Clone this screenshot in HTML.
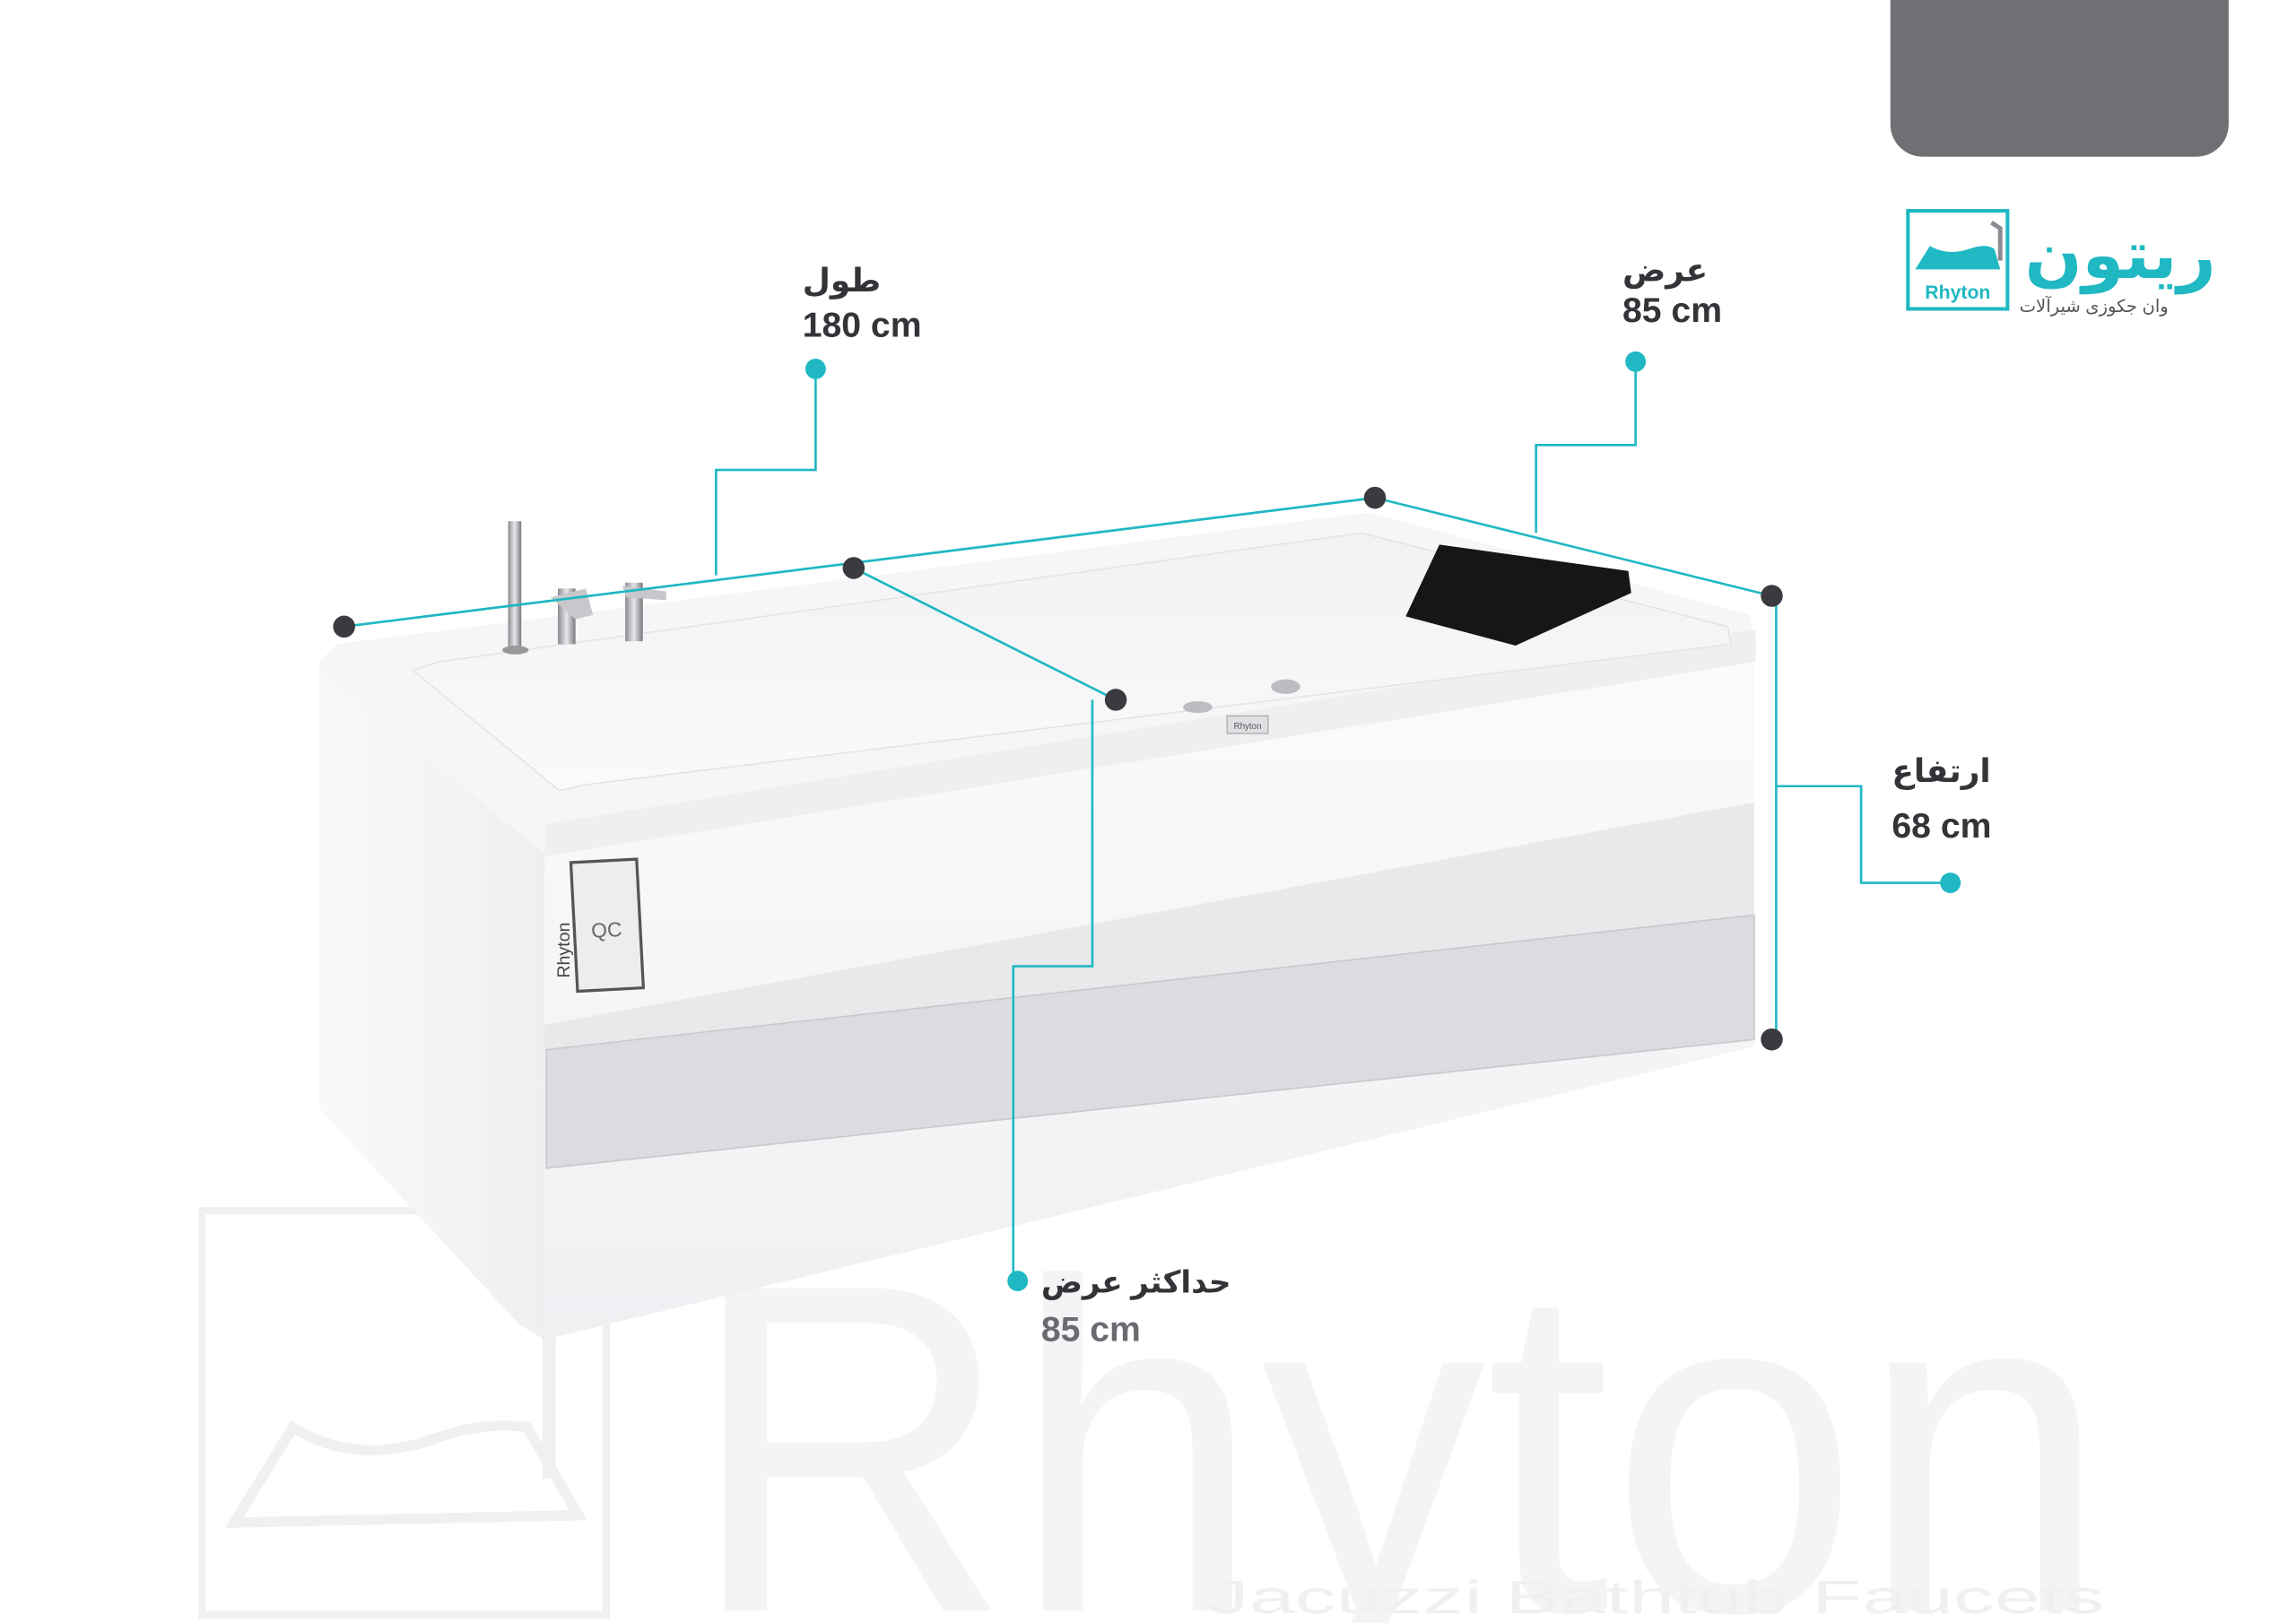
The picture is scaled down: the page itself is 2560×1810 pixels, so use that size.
<!DOCTYPE html>
<html><head><meta charset="utf-8"><style>
html,body{margin:0;padding:0;background:#fff;width:2560px;height:1810px;overflow:hidden;}
svg{display:block;}
</style></head><body>
<svg width="2560" height="1810" viewBox="0 0 1568 1108.6" preserveAspectRatio="none" xmlns="http://www.w3.org/2000/svg">
<defs>
<linearGradient id="lf" x1="0" y1="0" x2="1" y2="0"><stop offset="0" stop-color="#f9f9fa"/><stop offset="1" stop-color="#efeff2"/></linearGradient>
<linearGradient id="ff" x1="0" y1="0" x2="0" y2="1"><stop offset="0" stop-color="#fbfbfc"/><stop offset="1" stop-color="#f0f0f3"/></linearGradient>
<linearGradient id="bs" x1="0" y1="0" x2="0" y2="1"><stop offset="0" stop-color="#f2f2f4"/><stop offset="1" stop-color="#fafafb"/></linearGradient>
<linearGradient id="mt" x1="0" y1="0" x2="1" y2="0"><stop offset="0" stop-color="#8a8a90"/><stop offset="0.5" stop-color="#e8e8ec"/><stop offset="1" stop-color="#77777d"/></linearGradient>
</defs>
<rect width="1568" height="1108.6" fill="#fff"/>
<!-- watermark -->
<g fill="none" stroke="#f0f0f3" stroke-width="5">
<rect x="138" y="827" width="276" height="276"/>
<path d="M160 1040 L200 975 Q240 1000 290 985 Q330 970 360 975 L395 1035 Z" stroke-width="7"/>
<path d="M375 905 L375 1010" stroke-width="9"/>
</g>
<text x="470" y="1100" font-family="Liberation Sans, sans-serif" font-size="320" fill="#f4f4f7" textLength="970" lengthAdjust="spacingAndGlyphs">Rhyton</text>
<text x="825" y="1102" font-family="Liberation Sans, sans-serif" font-size="32" fill="#f0f0f3" textLength="612" lengthAdjust="spacingAndGlyphs">Jacuzzi  Bathtub  Faucets</text>

<!-- gray box -->
<rect x="1291" y="-30" width="231" height="137" rx="22" fill="#707074"/>

<!-- logo -->
<rect x="1303" y="144" width="68" height="67" fill="none" stroke="#1fb8c3" stroke-width="2.5"/>
<path d="M1308 184 L1318 168 Q1330 175 1345 170 Q1356 166 1362 170 L1366 184 Z" fill="#1fb8c3"/>
<path d="M1360 152 L1366 156 L1366 178" stroke="#8a8a90" stroke-width="3" fill="none"/>
<text x="1337" y="204" text-anchor="middle" font-family="Liberation Sans, sans-serif" font-weight="bold" font-size="13" fill="#1fb8c3">Rhyton</text>
<text x="1448" y="190" text-anchor="middle" font-family="'Liberation Sans','DejaVu Sans',sans-serif" font-weight="bold" font-size="46" fill="#1fb8c3">ريتون</text>
<text x="1430" y="213" text-anchor="middle" font-family="'Liberation Sans','DejaVu Sans',sans-serif" font-size="12" fill="#55555a">وان جکوزی شیرآلات</text>

<!-- tub -->
<polygon points="218,455 372,582 372,915 355,905 218,757" fill="url(#lf)"/>
<polygon points="372,582 1198,445 1198,715 372,915" fill="url(#ff)"/>
<polygon points="372,700 1198,548 1198,625 372,717" fill="#e9e9ec"/>
<polygon points="373,717 1198,625 1198,710 373,798" fill="#dcdce0" stroke="#c9c9cd" stroke-width="1"/>
<polygon points="218,452 230,440 935,350 1195,420 1200,445 372,583 218,458" fill="#f6f6f8"/>
<polygon points="372,563 1199,430 1199,452 372,585" fill="#efeff2"/>
<polygon points="282,458 300,452 930,364 1180,428 1182,440 400,536 382,540" fill="url(#bs)" stroke="#e4e4e8" stroke-width="1"/>
<!-- pillow -->
<polygon points="983,372 1112,390 1114,405 1035,441 960,421" fill="#161618"/>
<!-- jets & badge -->
<ellipse cx="818" cy="483" rx="10" ry="4" fill="#bcbcc2"/>
<ellipse cx="878" cy="469" rx="10" ry="5" fill="#bcbcc2"/>
<rect x="838" y="489" width="28" height="12" fill="#e0e0e4" stroke="#aaa" stroke-width="0.8"/>
<text x="852" y="498" text-anchor="middle" font-family="Liberation Sans, sans-serif" font-size="6" fill="#555">Rhyton</text>
<!-- faucets -->
<rect x="347" y="356" width="9" height="86" fill="url(#mt)"/>
<ellipse cx="352" cy="444" rx="9" ry="3" fill="#999"/>
<rect x="381" y="402" width="12" height="38" fill="url(#mt)"/>
<path d="M376 408 L400 402 L405 420 L393 423 Z" fill="#c8c8cc"/>
<rect x="427" y="398" width="12" height="40" fill="url(#mt)"/>
<path d="M425 400 L455 404 L455 410 L428 408 Z" fill="#c8c8cc"/>
<!-- sticker -->
<g transform="rotate(-3 414 630)">
<rect x="392" y="588" width="45" height="88" fill="#ededf0" stroke="#555" stroke-width="2"/>
<text x="414" y="640" text-anchor="middle" font-family="Liberation Sans, sans-serif" font-size="14" fill="#666">QC</text>
</g>
<text transform="translate(389 668) rotate(-90)" font-family="Liberation Sans, sans-serif" font-size="12" fill="#444">Rhyton</text>

<!-- connectors -->
<g stroke="#1fb8c3" stroke-width="1.6" fill="none">
<line x1="235" y1="428" x2="939" y2="340"/>
<line x1="939" y1="340" x2="1210" y2="407"/>
<line x1="583" y1="388" x2="762" y2="478"/>
<polyline points="557,252 557,321 489,321 489,393"/>
<polyline points="1117,247 1117,304 1049,304 1049,364"/>
<line x1="1213" y1="407" x2="1213" y2="710"/>
<polyline points="1213,537 1271,537 1271,603 1332,603"/>
<polyline points="746,478 746,660 692,660 692,875"/>
</g>
<g fill="#3a3a40">
<circle cx="235" cy="428" r="7.5"/>
<circle cx="583" cy="388" r="7.5"/>
<circle cx="939" cy="340" r="7.5"/>
<circle cx="1210" cy="407" r="7.5"/>
<circle cx="762" cy="478" r="7.5"/>
<circle cx="1210" cy="710" r="7.5"/>
</g>
<g fill="#1fb8c3">
<circle cx="557" cy="252" r="7"/>
<circle cx="1117" cy="247" r="7"/>
<circle cx="1332" cy="603" r="7"/>
<circle cx="695" cy="875" r="7"/>
</g>

<!-- labels -->
<g font-family="'Liberation Sans','DejaVu Sans',sans-serif" font-weight="bold" fill="#333338">
<text x="548" y="199" font-size="22">طول</text>
<text x="548" y="230" font-size="24">180 cm</text>
<text x="1108" y="192" font-size="22">عرض</text>
<text x="1108" y="220" font-size="24">85 cm</text>
<text x="1292" y="534" font-size="22">ارتفاع</text>
<text x="1292" y="572" font-size="24">68 cm</text>
<text x="711" y="883" font-size="21">حداکثر عرض</text>
<text x="711" y="916" font-size="24" fill="#6a6a70">85 cm</text>
</g>
</svg>
</body></html>
